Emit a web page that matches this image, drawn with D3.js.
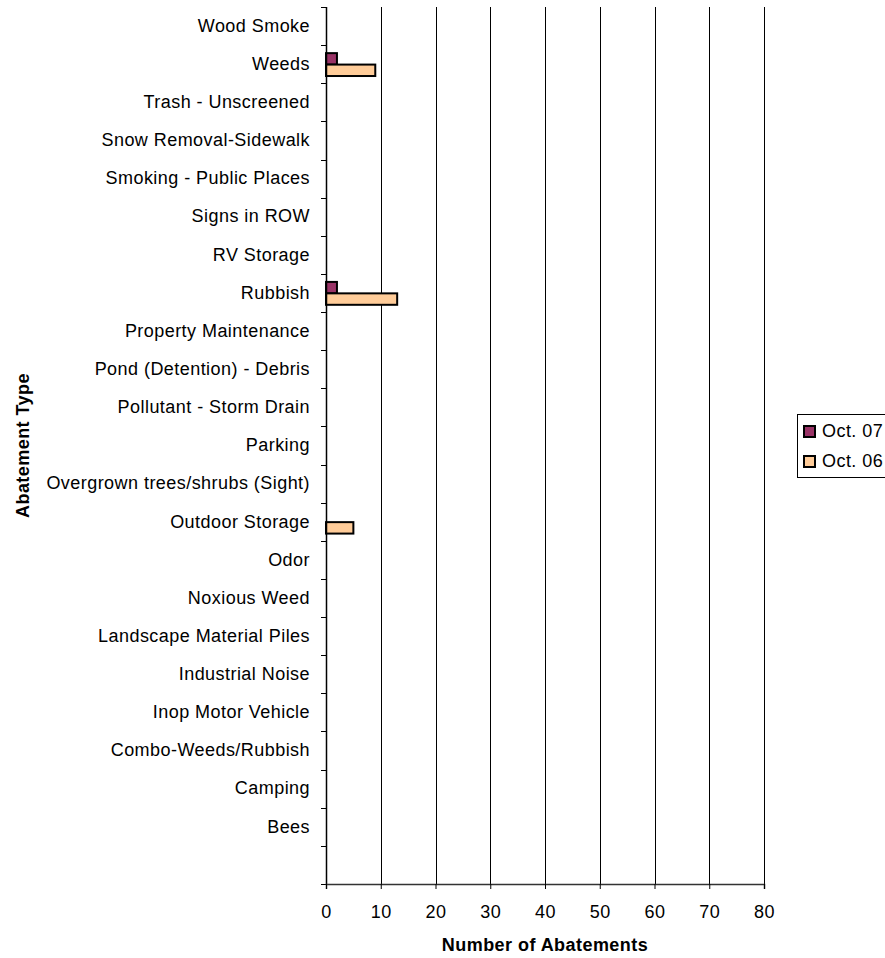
<!DOCTYPE html>
<html>
<head>
<meta charset="utf-8">
<script src="https://cdn.jsdelivr.net/npm/d3@7"></script>
<style>
  body { margin: 0; background: #fff; }
  text { font-family: Arial, "Liberation Sans", sans-serif; fill: #000; letter-spacing: 0.45px; }
</style>
</head>
<body>
<svg id="chart"></svg>
<script>
const width = 885;
const height = 958;

// categories top to bottom (last band is left empty in the original)
const categories = [
  'Wood Smoke', 'Weeds', 'Trash - Unscreened', 'Snow Removal-Sidewalk',
  'Smoking - Public Places', 'Signs in ROW', 'RV Storage', 'Rubbish',
  'Property Maintenance', 'Pond (Detention) - Debris', 'Pollutant - Storm Drain',
  'Parking', 'Overgrown trees/shrubs (Sight)', 'Outdoor Storage', 'Odor',
  'Noxious Weed', 'Landscape Material Piles', 'Industrial Noise',
  'Inop Motor Vehicle', 'Combo-Weeds/Rubbish', 'Camping', 'Bees', ''
];
const oct07 = [0, 2, 0, 0, 0, 0, 0, 2, 0, 0, 0, 0, 0, 0, 0, 0, 0, 0, 0, 0, 0, 0, 0];
const oct06 = [0, 9, 0, 0, 0, 0, 0, 13, 0, 0, 0, 0, 0, 5, 0, 0, 0, 0, 0, 0, 0, 0, 0];
const seriesNames = ['Oct. 07', 'Oct. 06'];
const seriesColors = ['#993366', '#FFCC99'];
const xTicks = [0, 10, 20, 30, 40, 50, 60, 70, 80];

const margin = {top: 7, left: 326, right: 121, bottom: 74};
const plotW = width - margin.left - margin.right;
const plotH = height - margin.top - margin.bottom;

const svg = d3.select('#chart')
  .attr('width', width)
  .attr('height', height);

const x = d3.scaleLinear().domain([0, 80]).range([0, plotW]);
const y0 = d3.scaleBand().domain(categories).range([0, plotH]).padding(0);
const y1 = d3.scaleBand().domain(seriesNames)
  .range([y0.bandwidth() * 0.21, y0.bandwidth() * 0.81]);

const g = svg.append('g').attr('transform', `translate(${margin.left},${margin.top})`);

// vertical gridlines
g.selectAll('.grid')
  .data(xTicks.slice(1))
  .enter()
  .append('line')
    .attr('x1', d => Math.round(x(d)) + 0.5)
    .attr('x2', d => Math.round(x(d)) + 0.5)
    .attr('y1', 0)
    .attr('y2', plotH)
    .style('stroke', '#000')
    .style('stroke-width', 1);

// bars
const rows = categories.map((c, i) => ({cat: c, values: [oct07[i], oct06[i]]}));
const groups = g.selectAll('.row')
  .data(rows)
  .enter()
  .append('g')
    .attr('transform', d => `translate(0,${y0(d.cat)})`);

groups.selectAll('rect')
  .data(d => d.values.map((v, k) => ({v: v, k: k})).filter(e => e.v > 0))
  .enter()
  .append('rect')
    .attr('x', 0)
    .attr('y', d => y1(seriesNames[d.k]))
    .attr('width', d => x(d.v))
    .attr('height', y1.bandwidth())
    .style('fill', d => seriesColors[d.k])
    .style('stroke', '#000')
    .style('stroke-width', 2);

// y axis
const yAxis = g.append('g')
  .call(d3.axisLeft(y0).tickSize(0).tickPadding(16));
yAxis.select('.domain').remove();
yAxis.selectAll('text').style('font-size', '18px').attr('font-family', null);

// y tick marks at band boundaries
const bounds = d3.range(categories.length + 1).map(i => i * y0.step());
g.selectAll('.ytick')
  .data(bounds)
  .enter()
  .append('line')
    .attr('x1', -5)
    .attr('x2', 0)
    .attr('y1', d => Math.round(d) + 0.5)
    .attr('y2', d => Math.round(d) + 0.5)
    .style('stroke', '#000');

g.append('line')
  .attr('x1', 0.5).attr('x2', 0.5)
  .attr('y1', 0).attr('y2', plotH)
  .style('stroke', '#000')
  .style('stroke-width', 1.5);

// x axis
const xAxis = g.append('g')
  .attr('transform', `translate(0,${plotH})`)
  .call(d3.axisBottom(x).tickValues(xTicks).tickSize(5).tickPadding(16));
xAxis.select('.domain').style('stroke', '#333').style('stroke-width', 1.5);
xAxis.selectAll('.tick line').style('stroke', '#000');
xAxis.selectAll('text').style('font-size', '18px').attr('font-family', null);

// axis titles
svg.append('text')
  .attr('x', margin.left + plotW / 2)
  .attr('y', 951)
  .attr('text-anchor', 'middle')
  .style('font-size', '18px')
  .style('font-weight', 'bold')
  .text('Number of Abatements');

svg.append('text')
  .attr('transform', `translate(29,${margin.top + plotH / 2}) rotate(-90)`)
  .attr('text-anchor', 'middle')
  .style('font-size', '18px')
  .style('font-weight', 'bold')
  .text('Abatement Type');

// legend
const legend = svg.append('g').attr('transform', 'translate(797,414)');
legend.append('rect')
  .attr('x', 0.5).attr('y', 0.5)
  .attr('width', 110).attr('height', 63)
  .style('fill', '#fff')
  .style('stroke', '#000');

seriesNames.forEach((name, i) => {
  legend.append('rect')
    .attr('x', 7)
    .attr('y', 12 + i * 30)
    .attr('width', 11)
    .attr('height', 11)
    .style('fill', seriesColors[i])
    .style('stroke', '#000')
    .style('stroke-width', 2);
  legend.append('text')
    .attr('x', 25)
    .attr('y', 17 + i * 30)
    .attr('dy', '0.35em')
    .style('font-size', '18px')
    .text(name);
});
</script>
</body>
</html>
